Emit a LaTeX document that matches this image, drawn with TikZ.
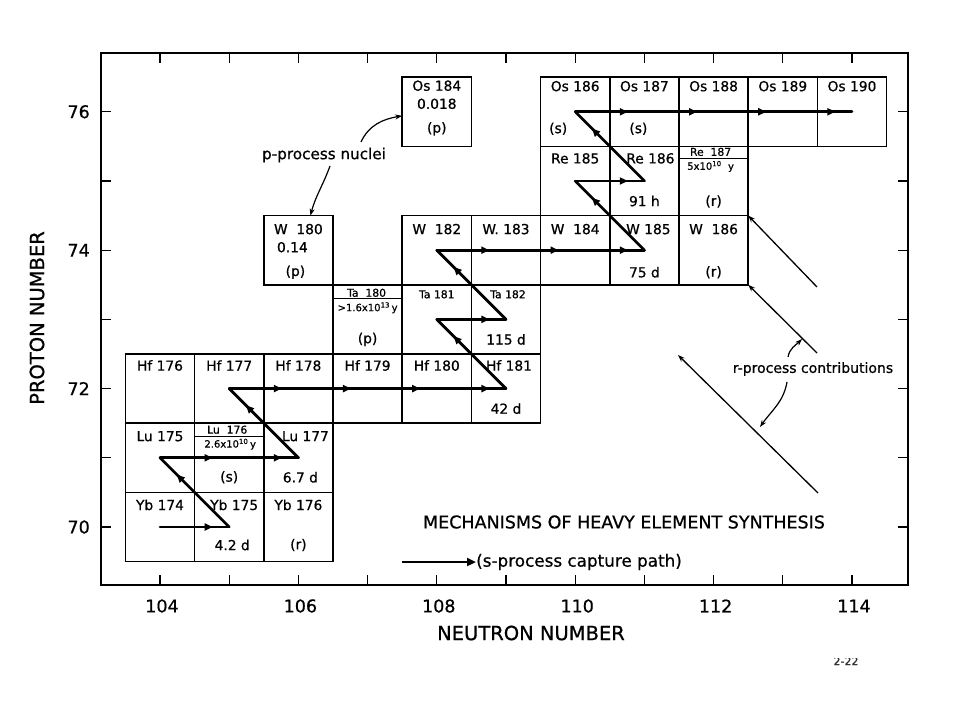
\documentclass[tikz,border=0pt]{standalone}
\usepackage{fontspec}
\setmainfont{DejaVu Sans}[FakeBold=0.7]
\usetikzlibrary{arrows.meta,decorations.markings}
\tikzset{
  cell/.style={draw, line width=1.6pt, minimum width=69.2pt, minimum height=69.2pt, inner sep=0pt, outer sep=0pt},
  divider/.style={line width=1.2pt},
  lab/.style={font=\fontsize{13.8pt}{15pt}\selectfont, inner sep=0pt},
  slab/.style={font=\fontsize{10.8pt}{11.5pt}\selectfont, inner sep=0pt},
  tlab/.style={font=\fontsize{10pt}{11pt}\selectfont, inner sep=0pt},
  spath/.style={line width=2.7pt, line cap=round, postaction={decorate},
    decoration={markings, mark=at position 0.76 with {\arrow{Triangle[length=8pt,width=7pt]}}}},
  rline/.style={line width=1.3pt, -{Stealth[length=7pt,width=5pt]}},
  carr/.style={line width=1.2pt, -{Stealth[length=7pt,width=5pt]}},
  tickl/.style={line width=1.3pt},
  frame/.style={line width=2pt},
  ticklab/.style={font=\fontsize{17.5pt}{19pt}\selectfont, inner sep=0pt},
  axlab/.style={font=\fontsize{19.5pt}{21pt}\selectfont, inner sep=0pt}
}
\newcommand{\Cell}[7][lab]{%
  \node[cell] (#2) at (#3-104,#4-70) {};
  \node[#1] (#2-n) at ([xshift=#7,yshift=-#6]#2.north) {#5};}
\begin{document}
\begin{tikzpicture}[x=69.2pt,y=69.2pt]
\useasboundingbox (-160pt,-193pt) rectangle (800pt,527pt);
\fill[white] (-160pt,-193pt) rectangle (800pt,527pt);

% frame and ticks
\draw[frame] (-59pt,-58pt) rectangle (748pt,474pt);
\foreach \n in {0,...,10}{
  \draw[tickl] ({\n*69.2pt},-58pt) -- ++(0,10pt);
  \draw[tickl] ({\n*69.2pt},474pt) -- ++(0,-10pt);
}
\foreach \z in {0,...,6}{
  \draw[tickl] (-59pt,{\z*69.2pt}) -- ++(10pt,0);
  \draw[tickl] (748pt,{\z*69.2pt}) -- ++(-10pt,0);
}
\foreach \n/\lab in {0/104,2/106,4/108,6/110,8/112,10/114}{
  \node[ticklab] (bx\lab) at ({\n*69.2pt+2pt},-79pt) {\lab};
}
\foreach \z/\lab in {0/70,2/72,4/74,6/76}{
  \node[ticklab, anchor=east] (ly\lab) at (-70pt,{\z*69.2pt}) {\lab};
}
\node[axlab] (xlab) at (371pt,-106pt) {NEUTRON NUMBER};
\node[axlab, rotate=90] (ylab) at (-123pt,209pt) {PROTON NUMBER};

% Yb row
\Cell{yb174}{104}{70}{Yb 174}{12.5pt}{0pt}
\Cell{yb175}{105}{70}{Yb 175}{12.5pt}{5pt}
\Cell{yb176}{106}{70}{Yb 176}{12.5pt}{0pt}
\node[lab] (yb175-l) at ([xshift=3pt,yshift=-18pt]yb175.center) {4.2 d};
\node[lab] (yb176-l) at ([yshift=-18pt]yb176.center) {(r)};

% Lu row
\Cell{lu175}{104}{71}{Lu 175}{13pt}{0pt}
\node[cell] (lu176) at (1,1) {};
\draw[divider] ([yshift=-13pt]lu176.north west) -- ([yshift=-13pt]lu176.north east);
\node[slab] (lu176-n) at ([xshift=-2pt,yshift=-6.5pt]lu176.north) {Lu\ \ 176};
\node[tlab] (lu176-t) at ([xshift=1pt,yshift=-21pt]lu176.north) {2.6x10\textsuperscript{10}\,y};
\node[lab] (lu176-l) at ([yshift=-19.5pt]lu176.center) {(s)};
\Cell{lu177}{106}{71}{Lu 177}{13pt}{7pt}
\node[lab] (lu177-l) at ([xshift=2pt,yshift=-19.5pt]lu177.center) {6.7 d};

% Hf row
\Cell{hf176}{104}{72}{Hf 176}{11.5pt}{0pt}
\Cell{hf177}{105}{72}{Hf 177}{11.5pt}{0pt}
\Cell{hf178}{106}{72}{Hf 178}{11.5pt}{0pt}
\Cell{hf179}{107}{72}{Hf 179}{11.5pt}{0pt}
\Cell{hf180}{108}{72}{Hf 180}{11.5pt}{0pt}
\Cell{hf181}{109}{72}{Hf 181}{11.5pt}{3pt}
\node[lab] (hf181-l) at ([yshift=-20pt]hf181.center) {42 d};

% Ta row
\node[cell] (ta180) at (3,3) {};
\draw[divider] ([yshift=-14pt]ta180.north west) -- ([yshift=-14pt]ta180.north east);
\node[slab] (ta180-n) at ([xshift=-1pt,yshift=-8pt]ta180.north) {Ta\ \ 180};
\node[tlab] (ta180-t) at ([xshift=0pt,yshift=-23pt]ta180.north) {>1.6x10\textsuperscript{13}\,y};
\node[lab] (ta180-l) at ([yshift=-20pt]ta180.center) {(p)};
\Cell[slab]{ta181}{108}{73}{Ta 181}{9.5pt}{0pt}
\Cell[slab]{ta182}{109}{73}{Ta 182}{9.5pt}{2pt}
\node[lab] (ta182-l) at ([yshift=-20pt]ta182.center) {115 d};

% W row
\Cell{w180}{106}{74}{W\ \ 180}{13.5pt}{0pt}
\node[lab] (w180-v) at ([xshift=-6pt,yshift=3pt]w180.center) {0.14};
\node[lab] (w180-l) at ([xshift=-3pt,yshift=-22pt]w180.center) {(p)};
\Cell{w182}{108}{74}{W\ \ 182}{13.5pt}{0pt}
\Cell{w183}{109}{74}{W. 183}{13.5pt}{0pt}
\Cell{w184}{110}{74}{W\ \ 184}{13.5pt}{0pt}
\Cell{w185}{111}{74}{W 185}{13.5pt}{4pt}
\Cell{w186}{112}{74}{W\ \ 186}{13.5pt}{0pt}
\node[lab] (w185-l) at ([yshift=-22pt]w185.center) {75 d};
\node[lab] (w186-l) at ([yshift=-22pt]w186.center) {(r)};

% Re row
\Cell{re185}{110}{75}{Re 185}{12pt}{0pt}
\Cell{re186}{111}{75}{Re 186}{12pt}{6pt}
\node[lab] (re186-l) at ([yshift=-20pt]re186.center) {91 h};
\node[cell] (re187) at (8,5) {};
\draw[divider] ([yshift=-12pt]re187.north west) -- ([yshift=-12pt]re187.north east);
\node[slab] (re187-n) at ([xshift=-3pt,yshift=-5.5pt]re187.north) {Re\ \ 187};
\node[tlab] (re187-t) at ([xshift=-3pt,yshift=-20pt]re187.north) {5x10\textsuperscript{10}\ \ y};
\node[lab] (re187-l) at ([yshift=-20.5pt]re187.center) {(r)};

% Os row
\Cell{os184}{108}{76}{Os 184}{8.5pt}{0pt}
\node[lab] (os184-v) at ([yshift=8pt]os184.center) {0.018};
\node[lab] (os184-l) at ([yshift=-17pt]os184.center) {(p)};
\Cell{os186}{110}{76}{Os 186}{9pt}{0pt}
\Cell{os187}{111}{76}{Os 187}{9pt}{0pt}
\Cell{os188}{112}{76}{Os 188}{9pt}{0pt}
\Cell{os189}{113}{76}{Os 189}{9pt}{0pt}
\Cell{os190}{114}{76}{Os 190}{9pt}{0pt}
\node[lab] (os186-l) at ([xshift=-17pt,yshift=-17pt]os186.center) {(s)};
\node[lab] (os187-l) at ([xshift=-6pt,yshift=-17pt]os187.center) {(s)};

% s-process capture path
\draw[spath] (yb174.center) -- (yb175.center);
\draw[spath] (yb175.center) -- (lu175.center);
\draw[spath] (lu175.center) -- (lu176.center);
\draw[spath] (lu176.center) -- (lu177.center);
\draw[spath] (lu177.center) -- (hf177.center);
\draw[spath] (hf177.center) -- (hf178.center);
\draw[spath] (hf178.center) -- (hf179.center);
\draw[spath] (hf179.center) -- (hf180.center);
\draw[spath] (hf180.center) -- (hf181.center);
\draw[spath] (hf181.center) -- (ta181.center);
\draw[spath] (ta181.center) -- (ta182.center);
\draw[spath] (ta182.center) -- (w182.center);
\draw[spath] (w182.center) -- (w183.center);
\draw[spath] (w183.center) -- (w184.center);
\draw[spath] (w184.center) -- (w185.center);
\draw[spath] (w185.center) -- (re185.center);
\draw[spath] (re185.center) -- (re186.center);
\draw[spath] (re186.center) -- (os186.center);
\draw[spath] (os186.center) -- (os187.center);
\draw[spath] (os187.center) -- (os188.center);
\draw[spath] (os188.center) -- (os189.center);
\draw[spath] (os189.center) -- (os190.center);

% p-process annotation
\node[font=\fontsize{15.2pt}{17pt}\selectfont, inner sep=0pt] (pp) at (164pt,372pt) {p-process nuclei};
\coordinate (pp1) at (201pt,385pt);
\coordinate (pp2) at (170pt,361pt);
\draw[carr] (pp1) to[out=65,in=190] ([yshift=-4pt]os184.west);
\draw[carr] (pp2) to[out=-110,in=75] ([xshift=12pt]w180.north);

% r-process annotation
\coordinate (r1) at (657pt,240pt);
\coordinate (r2) at (657pt,174pt);
\coordinate (r3) at (658pt,34pt);
\coordinate (r3e) at (518pt,172pt);
\draw[rline] (r1) -- (w186.north east);
\draw[rline] (r2) -- (w186.south east);
\draw[rline] (r3) -- (r3e);
\node[font=\fontsize{14pt}{16pt}\selectfont, inner sep=0pt] (rpc) at (653pt,158pt) {r-process contributions};
\coordinate (ra1) at (628pt,170pt);
\coordinate (ra2) at (642pt,188pt);
\coordinate (rb1) at (627pt,145pt);
\coordinate (rb2) at (600pt,100pt);
\draw[carr] (ra1) to[out=80,in=225] (ra2);
\draw[carr] (rb1) to[out=-100,in=55] (rb2);

% legend
\node[font=\fontsize{17.5pt}{20pt}\selectfont, inner sep=0pt] (title) at (464pt,5pt) {MECHANISMS OF HEAVY ELEMENT SYNTHESIS};
\coordinate (lg1) at (242pt,-35pt);
\node[font=\fontsize{16.8pt}{19pt}\selectfont, inner sep=0pt, anchor=west] (lgt) at (316pt,-35pt) {(s-process capture path)};
\draw[line width=2.4pt, -{Triangle[length=9pt,width=8pt]}] (lg1) -- (lgt.west);

% page mark (cut off)
\begin{scope}
\clip (655pt,-143pt) rectangle (720pt,-131pt);
\node[font=\fontsize{11pt}{12pt}\selectfont, text=black!80, inner sep=0pt] (pg) at (686pt,-134pt) {2-22};
\end{scope}
\end{tikzpicture}
\end{document}
